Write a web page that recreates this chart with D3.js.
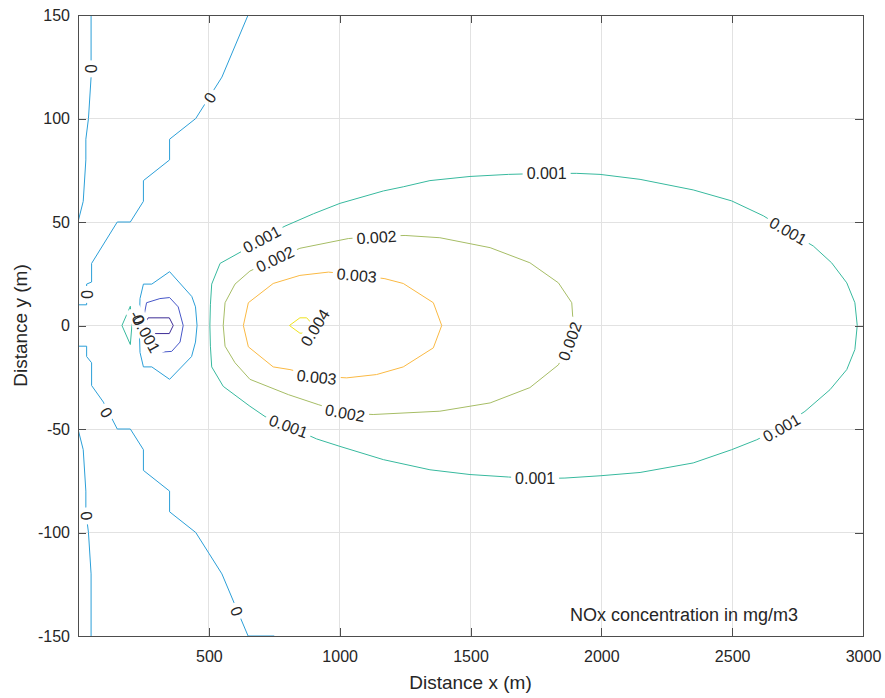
<!DOCTYPE html>
<html>
<head>
<meta charset="utf-8">
<script src="https://cdn.jsdelivr.net/npm/d3@7"></script>
<style>
  body { margin: 0; background: #fff; }
  svg { display: block; }
  text { font-family: "Liberation Sans", Arial, Helvetica, sans-serif; }
</style>
</head>
<body>
<svg id="chart" width="885" height="698"></svg>
<script>
// Axis ticks
const xTicks = [500, 1000, 1500, 2000, 2500, 3000];
const yTicks = [-150, -100, -50, 0, 50, 100, 150];

// Contour levels (mg/m3)
const levels = [-0.002, -0.001, 0, 0.001, 0.002, 0.003, 0.004];

// Contour polylines, [x (m), y (m)] vertices
// level 0 – line close to the source edge
const zeroEdgeTop = [[50,150],[50,120],[40,100],[30,90],[30,80],[20,60],[0,50]];
const zeroEdgeBottom = [[0,-50],[20,-60],[30,-80],[30,-90],[40,-100],[50,-120],[50,-150]];
// level 0 – front further downstream
const zeroFrontTop = [[680,150],[650,150],[550,120],[500,110],[450,100],[350,90],[350,80],
  [250,70],[250,60],[200,50],[150,50],[52,30],[52,21],[33,20],[33,10],[0,10]];
const zeroFrontBottom = [[0,-10],[33,-10],[33,-15],[52,-18],[52,-29],[97,-37],[150,-50],
  [200,-50],[250,-60],[250,-70],[350,-80],[350,-90],[450,-100],[500,-110],[550,-120],
  [650,-150],[750,-150]];
// level 0 – loop around the negative pocket
const zeroLoop = [[250,20],[282,20],[350,26],[435,14],[449,9],[455,0],[449,-8],[434,-15],
  [350,-26],[282,-20],[250,-20],[237,-13],[234,0],[237,13],[250,20]];
// negative pocket
const negOne = [[262,11],[313,13],[350,13.5],[383,9],[402,0],[390,-8],[358,-12.5],
  [300,-13],[262,-11],[245,0],[262,11]];
const negTwo = [[268,3.7],[349,3.7],[364,0],[349,-3.9],[268,-3.9],[255,0],[268,3.7]];
// small positive spot
const posSpot = [[200,9.3],[168,0],[200,-9.2],[206,0],[200,9.3]];
// main plume
const plume001 = [[504,0],[506,10],[511,20],[543,30],[600,34],[657,38],[715,43],[791,48],
  [900,54],[1001,59],[1167,65],[1243,67],[1345,70],[1498,72],[1645,73],[1791,73.5],
  [1906,73.5],[1995,73],[2148,70.6],[2351,65.5],[2498,60.2],[2619,53],[2714,45.6],
  [2810,38.4],[2880,30.3],[2938,20.6],[2969,11],[2978,0],[2969,-11.6],[2938,-21.3],
  [2874,-31],[2778,-41.5],[2689,-49],[2594,-55.2],[2498,-60],[2351,-66.4],[2148,-71],
  [1995,-72.6],[1861,-73.7],[1747,-74],[1645,-73.2],[1498,-72],[1345,-69.7],[1167,-64.8],
  [1001,-58.4],[912,-54.8],[804,-48.7],[715,-44],[657,-39],[555,-29.4],[511,-20],
  [506,-10],[504,0]];
const plume002 = [[555,0],[562,11],[600,20],[657,26.3],[753,32],[848,37.3],[1033,42],
  [1141,43],[1250,43.5],[1383,42.4],[1575,37.6],[1727,30.3],[1836,20.6],[1887,11],
  [1893,0],[1880,-8],[1836,-19],[1727,-30],[1575,-37.4],[1383,-41.4],[1128,-43],
  [1020,-42.3],[918,-38.2],[804,-33.4],[657,-26],[600,-18],[562,-10],[555,0]];
const plume003 = [[632,0],[651,11],[746,20.3],[848,24.2],[957,25.8],[1065,24.5],
  [1173,22.6],[1243,20.3],[1358,11],[1390,0],[1358,-10.8],[1243,-20],[1141,-23.7],
  [1027,-25.3],[912,-24.5],[810,-21.3],[746,-20],[651,-10.3],[632,0]];
const plume004 = [[808,0],[848,3.7],[874,3.7],[900,0],[874,-3.7],[848,-3.7],[808,0]];

const contourLines = [
  { level: 0, pts: zeroEdgeTop },
  { level: 0, pts: zeroEdgeBottom },
  { level: 0, pts: zeroFrontTop },
  { level: 0, pts: zeroFrontBottom },
  { level: 0, pts: zeroLoop },
  { level: -0.001, pts: negOne },
  { level: -0.002, pts: negTwo },
  { level: 0.001, pts: posSpot },
  { level: 0.001, pts: plume001 },
  { level: 0.002, pts: plume002 },
  { level: 0.003, pts: plume003 },
  { level: 0.004, pts: plume004 }
];

// Inline contour labels: text, position (m), angle (deg)
const labelText = ["0","0","0","0","0","0","0","-0.001",
  "0.001","0.001","0.001","0.001","0.001","0.001",
  "0.002","0.002","0.002","0.002","0.003","0.003","0.004"];
const labelX = [50, 504, 33, 108, 33, 606, 231, 256,
  1791, 702, 2714, 2689, 1747, 804,
  753, 1141, 1880, 1020, 1065, 912, 906];
const labelY = [124, 110, 15, -42, -92, -138, 3, -3,
  73.3, 41.6, 45.6, -49.5, -74, -48.7,
  32, 42.6, -7.6, -42.3, 24.2, -25, -1.1];
const labelAngle = [90, -57, 90, 60, 84, 68, 75, 61,
  0, -28, 30, -30, 0, 20,
  -26, -4, -70, 10, 5, 6, -58];

const levelColors = ["#3d2c96", "#4656c8", "#2b9fd8", "#37b99e", "#a6bd65", "#fab943", "#eee21c"];

const svg = d3.select("#chart");
const W = 885, H = 698;
const plot = { left: 78, right: 863, top: 15, bottom: 636 };

const x = d3.scaleLinear().domain([0, 3000]).range([plot.left, plot.right]);
const y = d3.scaleLinear().domain([-150, 150]).range([plot.bottom, plot.top]);
const color = d3.scaleOrdinal().domain(levels).range(levelColors);

const defs = svg.append("defs");
defs.append("clipPath").attr("id", "plotClip")
  .append("rect")
  .attr("x", plot.left).attr("y", plot.top)
  .attr("width", plot.right - plot.left).attr("height", plot.bottom - plot.top);

// Grid
const grid = svg.append("g").attr("shape-rendering", "crispEdges");
grid.selectAll("line.gx").data(xTicks.filter(d => d < 3000)).join("line")
  .attr("x1", d => x(d)).attr("x2", d => x(d))
  .attr("y1", plot.top).attr("y2", plot.bottom)
  .attr("stroke", "#e2e2e2").attr("stroke-width", 1);
grid.selectAll("line.gy").data(yTicks.filter(d => d > -150 && d < 150)).join("line")
  .attr("y1", d => y(d)).attr("y2", d => y(d))
  .attr("x1", plot.left).attr("x2", plot.right)
  .attr("stroke", "#e2e2e2").attr("stroke-width", 1);

// Labels: measure text to cut gaps in the contour lines
const labelData = labelText.map((t, i) => ({
  text: t, px: x(labelX[i]), py: y(labelY[i]), angle: labelAngle[i]
}));

const mask = defs.append("mask").attr("id", "labelGaps")
  .attr("maskUnits", "userSpaceOnUse")
  .attr("x", 0).attr("y", 0).attr("width", W).attr("height", H);
mask.append("rect").attr("x", 0).attr("y", 0).attr("width", W).attr("height", H).attr("fill", "#fff");

const measure = svg.append("text").attr("font-size", 16).attr("visibility", "hidden");
labelData.forEach(d => {
  measure.text(d.text);
  d.w = measure.node().getComputedTextLength();
});
measure.remove();

mask.selectAll("rect.gap").data(labelData).join("rect")
  .attr("x", d => -d.w / 2 - 4).attr("y", -8)
  .attr("width", d => d.w + 8).attr("height", 16)
  .attr("transform", d => `translate(${d.px},${d.py}) rotate(${d.angle})`)
  .attr("fill", "#000");

// Contour lines
const line = d3.line().x(d => x(d[0])).y(d => y(d[1]));
svg.append("g").attr("clip-path", "url(#plotClip)")
  .append("g").attr("mask", "url(#labelGaps)")
  .selectAll("path").data(contourLines).join("path")
  .attr("d", d => line(d.pts))
  .attr("fill", "none")
  .attr("stroke", d => color(d.level))
  .attr("stroke-width", 1)
  .attr("stroke-linejoin", "round");

svg.append("g").selectAll("text").data(labelData).join("text")
  .attr("transform", d => `translate(${d.px},${d.py}) rotate(${d.angle})`)
  .attr("text-anchor", "middle")
  .attr("dy", "0.35em")
  .attr("font-size", 16)
  .attr("fill", "#262626")
  .text(d => d.text);

// Axes (ticks inside, on all four sides)
const axisColor = "#4d4d4d";
const plainNumber = d => String(d);
function styleAxis(g) {
  g.select(".domain").remove();
  g.selectAll(".tick line").attr("stroke", axisColor).attr("shape-rendering", "crispEdges");
  g.selectAll(".tick text").attr("fill", "#262626").attr("font-size", 16)
    .attr("font-family", "'Liberation Sans', Arial, sans-serif");
}
svg.append("g").attr("transform", `translate(0,${plot.bottom})`)
  .call(d3.axisBottom(x).tickValues(xTicks).tickSize(-8).tickPadding(15).tickFormat(plainNumber))
  .call(styleAxis);
svg.append("g").attr("transform", `translate(0,${plot.top})`)
  .call(d3.axisTop(x).tickValues(xTicks).tickSize(-8).tickFormat(""))
  .call(styleAxis);
svg.append("g").attr("transform", `translate(${plot.left},0)`)
  .call(d3.axisLeft(y).tickValues(yTicks).tickSize(-8).tickPadding(8).tickFormat(plainNumber))
  .call(styleAxis);
svg.append("g").attr("transform", `translate(${plot.right},0)`)
  .call(d3.axisRight(y).tickValues(yTicks).tickSize(-8).tickFormat(""))
  .call(styleAxis);

svg.append("rect")
  .attr("x", plot.left).attr("y", plot.top)
  .attr("width", plot.right - plot.left).attr("height", plot.bottom - plot.top)
  .attr("fill", "none").attr("stroke", axisColor).attr("stroke-width", 1)
  .attr("shape-rendering", "crispEdges");

// Titles and annotation
svg.append("text")
  .attr("x", (plot.left + plot.right) / 2).attr("y", 689)
  .attr("text-anchor", "middle").attr("font-size", 19).attr("fill", "#262626")
  .text("Distance x (m)");
svg.append("text")
  .attr("transform", `translate(27,${(plot.top + plot.bottom) / 2}) rotate(-90)`)
  .attr("text-anchor", "middle").attr("font-size", 19).attr("fill", "#262626")
  .text("Distance y (m)");
svg.append("text")
  .attr("x", x(1880)).attr("y", 621)
  .attr("font-size", 18).attr("fill", "#262626")
  .text("NOx concentration in mg/m3");
</script>
</body>
</html>
